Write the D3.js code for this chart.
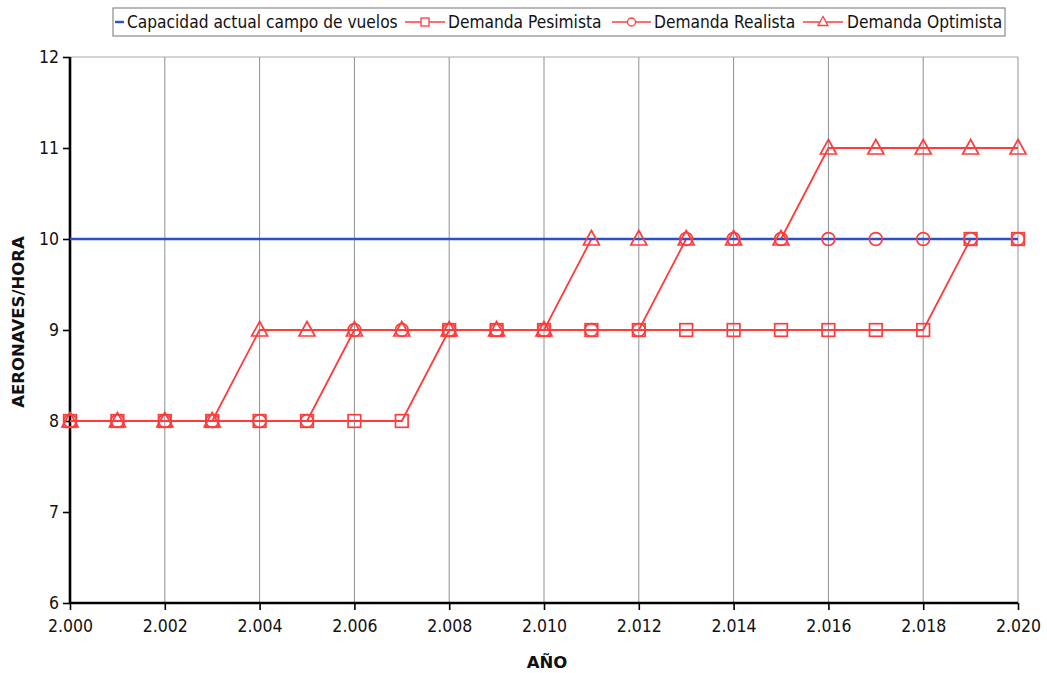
<!DOCTYPE html>
<html>
<head>
<meta charset="utf-8">
<script src="https://cdn.jsdelivr.net/npm/d3@7"></script>
<style>
  html, body { margin: 0; padding: 0; background: #ffffff; }
  svg { display: block; }
</style>
</head>
<body>
<svg id="chart" width="1047" height="673"></svg>
<script>
// Years on the horizontal axis
const years = d3.range(2000, 2021);

// Aircraft per hour, one value per year
const capacidad = [10, 10, 10, 10, 10, 10, 10, 10, 10, 10, 10, 10, 10, 10, 10, 10, 10, 10, 10, 10, 10];
const pesimista = [8, 8, 8, 8, 8, 8, 8, 8, 9, 9, 9, 9, 9, 9, 9, 9, 9, 9, 9, 10, 10];
const realista  = [8, 8, 8, 8, 8, 8, 9, 9, 9, 9, 9, 9, 9, 10, 10, 10, 10, 10, 10, 10, 10];
const optimista = [8, 8, 8, 8, 9, 9, 9, 9, 9, 9, 9, 10, 10, 10, 10, 10, 11, 11, 11, 11, 11];

const seriesNames = ["Capacidad actual campo de vuelos", "Demanda Pesimista", "Demanda Realista", "Demanda Optimista"];
const xTicks = d3.range(2000, 2021, 2);
const yTicks = [6, 7, 8, 9, 10, 11, 12];
const xTitle = "AÑO";
const yTitle = "AERONAVES/HORA";

const svg = d3.select("#chart");
const plotLeft = 70, plotRight = 1018, plotTop = 57, plotBottom = 603;

const x = d3.scaleLinear().domain([2000, 2020]).range([plotLeft, plotRight]);
const y = d3.scaleLinear().domain([6, 12]).range([plotBottom, plotTop]);

const es = d3.formatLocale({ decimal: ",", thousands: ".", grouping: [3], currency: ["", " €"] });
const fmtYear = es.format(",d");

const RED = "#ff3c3c";
const BLUE = "#2d4fc9";
const FONT = "'DejaVu Sans Condensed', 'DejaVu Sans', sans-serif";

// plot frame top line and vertical gridlines
svg.append("line")
  .attr("x1", plotLeft).attr("x2", plotRight).attr("y1", y(12)).attr("y2", y(12))
  .attr("stroke", "#a8a8b4").attr("stroke-width", 1.2);

svg.append("g")
  .selectAll("line")
  .data(xTicks.slice(1))
  .join("line")
  .attr("x1", d => x(d)).attr("x2", d => x(d))
  .attr("y1", y(12)).attr("y2", y(6))
  .attr("stroke", "#8f8f99").attr("stroke-width", 1);

// axes
const yAxis = svg.append("g")
  .attr("transform", `translate(${plotLeft},0)`)
  .call(d3.axisLeft(y).tickValues(yTicks).tickSize(7).tickPadding(4).tickFormat(d3.format("d")));
const xAxis = svg.append("g")
  .attr("transform", `translate(0,${plotBottom})`)
  .call(d3.axisBottom(x).tickValues(xTicks).tickSize(7).tickPadding(10).tickFormat(fmtYear));

[yAxis, xAxis].forEach(g => {
  g.select(".domain").attr("stroke", "#000").attr("stroke-width", 2.6);
  g.selectAll(".tick line").attr("stroke", "#000").attr("stroke-width", 1.6);
  g.selectAll(".tick text")
    .attr("fill", "#111")
    .style("font-family", FONT)
    .style("font-size", "17.5px");
});
xAxis.select(".domain").attr("d", `M${plotLeft},0H${plotRight}`);
yAxis.select(".domain").attr("d", `M0,${plotTop}V${plotBottom}`);

// axis titles
svg.append("text")
  .attr("x", 547).attr("y", 668)
  .attr("text-anchor", "middle")
  .style("font-family", "'DejaVu Sans', sans-serif")
  .style("font-weight", "bold")
  .style("font-size", "16.5px")
  .attr("fill", "#111")
  .text(xTitle);

svg.append("text")
  .attr("transform", "translate(24,322) rotate(-90)")
  .attr("text-anchor", "middle")
  .style("font-family", "'DejaVu Sans', sans-serif")
  .style("font-weight", "bold")
  .style("font-size", "16.5px")
  .attr("fill", "#111")
  .text(yTitle);

// data series
const line = d3.line().x((d, i) => x(years[i])).y(d => y(d));

const demand = [
  { values: pesimista, shape: "square" },
  { values: realista, shape: "circle" },
  { values: optimista, shape: "triangle" }
];

demand.forEach(s => {
  svg.append("path")
    .datum(s.values)
    .attr("d", line)
    .attr("fill", "none")
    .attr("stroke", RED)
    .attr("stroke-width", 1.8);
});

svg.append("path")
  .datum(capacidad)
  .attr("d", line)
  .attr("fill", "none")
  .attr("stroke", BLUE)
  .attr("stroke-width", 2.5);

function drawMarker(g, shape, cx, cy) {
  if (shape === "square") {
    g.append("rect")
      .attr("x", cx - 6.3).attr("y", cy - 6.3).attr("width", 12.6).attr("height", 12.6)
      .attr("fill", "none").attr("stroke", RED).attr("stroke-width", 1.7);
  } else if (shape === "circle") {
    g.append("circle")
      .attr("cx", cx).attr("cy", cy).attr("r", 6.4)
      .attr("fill", "none").attr("stroke", RED).attr("stroke-width", 1.7);
  } else {
    g.append("path")
      .attr("d", `M${cx},${cy - 8.5}L${cx + 8},${cy + 6}L${cx - 8},${cy + 6}Z`)
      .attr("fill", "none").attr("stroke", RED).attr("stroke-width", 1.7);
  }
}

demand.forEach(s => {
  const g = svg.append("g");
  s.values.forEach((v, i) => drawMarker(g, s.shape, x(years[i]), y(v)));
});

// legend
const legend = svg.append("g");
legend.append("rect")
  .attr("x", 113).attr("y", 8).attr("width", 892).attr("height", 28)
  .attr("fill", "#fff").attr("stroke", "#8a8a8a").attr("stroke-width", 1.2);

const legendItems = [
  { name: seriesNames[0], color: BLUE, shape: null, x0: 115, x1: 124, tx: 127 },
  { name: seriesNames[1], color: RED, shape: "square", x0: 405, x1: 445, tx: 448 },
  { name: seriesNames[2], color: RED, shape: "circle", x0: 612, x1: 651, tx: 654 },
  { name: seriesNames[3], color: RED, shape: "triangle", x0: 803, x1: 843, tx: 847 }
];
const ly = 22;
legendItems.forEach(it => {
  legend.append("line")
    .attr("x1", it.x0).attr("x2", it.x1).attr("y1", ly).attr("y2", ly)
    .attr("stroke", it.color).attr("stroke-width", it.shape ? 1.6 : 2.4);
  if (it.shape) {
    const cx = (it.x0 + it.x1) / 2;
    const g = legend.append("g");
    if (it.shape === "square") {
      g.append("rect").attr("x", cx - 4).attr("y", ly - 4).attr("width", 8).attr("height", 8)
        .attr("fill", "#fff").attr("stroke", RED).attr("stroke-width", 1.3);
    } else if (it.shape === "circle") {
      g.append("circle").attr("cx", cx).attr("cy", ly).attr("r", 4)
        .attr("fill", "#fff").attr("stroke", RED).attr("stroke-width", 1.3);
    } else {
      g.append("path").attr("d", `M${cx},${ly - 5.5}L${cx + 5},${ly + 3.5}L${cx - 5},${ly + 3.5}Z`)
        .attr("fill", "#fff").attr("stroke", RED).attr("stroke-width", 1.3);
    }
  }
  legend.append("text")
    .attr("x", it.tx).attr("y", ly).attr("dy", "0.36em")
    .style("font-family", FONT)
    .style("font-size", "17.2px")
    .attr("fill", "#111")
    .text(it.name);
});
</script>
</body>
</html>
